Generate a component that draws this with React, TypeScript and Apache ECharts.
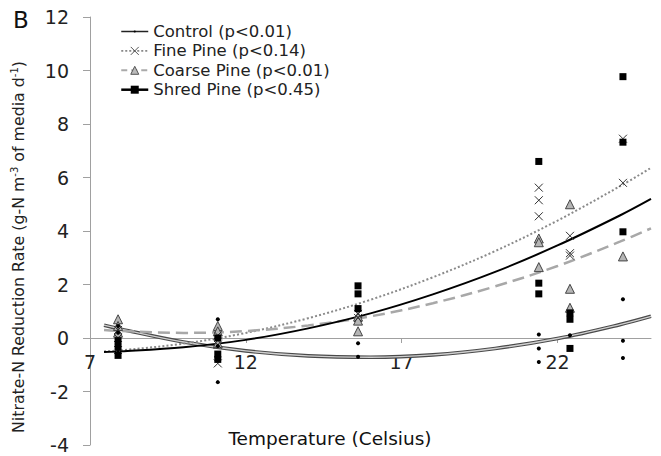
import React, { useEffect, useRef } from "react";
import * as echarts from "echarts";

// Temperatures (Celsius) at which the replicate samples were taken
const tempColumns = [7.9, 11.1, 15.6, 21.4, 22.4, 24.1];

// Nitrate-N reduction rate readings per temperature column
const controlValues = [
  [0.45, 0.2, -0.4],
  [0.7, -0.3, -1.65],
  [-0.2, -0.7],
  [0.13, -0.39, -0.9],
  [0.1],
  [1.45, -0.1, -0.75],
];
const fineValues = [
  [0.3, 0.0, -0.45],
  [0.1, -0.25, -0.95],
  [0.9, 0.75],
  [5.62, 5.15, 4.55],
  [3.82, 3.17, 3.08],
  [7.45, 5.8],
];
const coarseValues = [
  [0.7, 0.45, 0.2],
  [0.45, 0.25, -0.2],
  [0.8, 0.65, 0.25],
  [3.72, 3.58, 2.65],
  [5.0, 1.84, 1.13],
  [3.05],
];
const shredValues = [
  [-0.1, -0.35, -0.65],
  [0.0, -0.6, -0.8],
  [1.95, 1.65, 1.1],
  [6.6, 2.05, 1.65],
  [0.94, 0.7, -0.39],
  [9.77, 7.32, 3.97],
];

// Trend curves
const curveTemps = [7.45, 8, 10, 12, 14, 16, 18, 20, 22, 24, 25];
const controlCurve = [0.48, 0.33, -0.15, -0.48, -0.67, -0.72, -0.63, -0.39, -0.02, 0.5, 0.81];
const fineCurve = [-0.5, -0.46, -0.21, 0.19, 0.74, 1.43, 2.27, 3.25, 4.39, 5.67, 6.36];
const coarseCurve = [0.3, 0.26, 0.19, 0.26, 0.47, 0.81, 1.3, 1.93, 2.69, 3.6, 4.1];
const shredCurve = [-0.52, -0.5, -0.35, -0.07, 0.36, 0.92, 1.63, 2.47, 3.46, 4.58, 5.2];

const legendNames = [
  "Control (p<0.01)",
  "Fine Pine (p<0.14)",
  "Coarse Pine (p<0.01)",
  "Shred Pine (p<0.45)",
];

const xTitle = "Temperature (Celsius)";
const yTitleRich = "{a|Nitrate-N Reduction Rate (g-N m}{s|-3}{a| of media d}{s|-1}{a|)}";
const panelLabel = "B";

const FONT = "'DejaVu Sans', Arial, Helvetica, sans-serif";
const CROSS = "path://M0,0L10,10M10,0L0,10";
const SMALL_DOT = "path://M0,0M10,10M3.6,5A1.4,1.4,0,1,0,6.4,5A1.4,1.4,0,1,0,3.6,5Z";

function toPoints(cols: number[], vals: number[][]) {
  const pts: number[][] = [];
  vals.forEach((group, i) => group.forEach((v) => pts.push([cols[i], v])));
  return pts;
}

function curve(vals: number[]) {
  return curveTemps.map((t, i) => [t, vals[i]]);
}

export default function App() {
  const ref = useRef<HTMLDivElement>(null);
  useEffect(() => {
    if (!ref.current) return;
    const chart = echarts.init(ref.current, undefined, { renderer: "svg" });
    const option: any = {
      animation: false,
      backgroundColor: "#ffffff",
      grid: { left: 90, right: 10, top: 17, bottom: 11, containLabel: false, outerBoundsMode: "none" },
      xAxis: {
        type: "value",
        min: 7,
        max: 25,
        interval: 5,
        position: "bottom",
        offset: -107,
        axisLine: { onZero: false, lineStyle: { color: "#a0a0a0", width: 1 } },
        axisTick: { show: true, length: 5, lineStyle: { color: "#a0a0a0" } },
        axisLabel: { fontSize: 19, color: "#222", margin: 14, fontFamily: FONT, showMaxLabel: false },
        splitLine: { show: false },
      },
      yAxis: {
        type: "value",
        min: -4,
        max: 12,
        interval: 2,
        axisLine: { show: true, onZero: false, lineStyle: { color: "#a0a0a0", width: 1 } },
        axisTick: { show: true, length: 7, lineStyle: { color: "#a0a0a0" } },
        axisLabel: { fontSize: 19, color: "#222", margin: 21, fontFamily: FONT },
        splitLine: { show: false },
      },
      legend: {
        orient: "vertical",
        left: 120,
        top: 23,
        padding: 0,
        itemWidth: 27,
        itemHeight: 10,
        itemGap: 2.4,
        selectedMode: false,
        textStyle: { fontSize: 16.5, color: "#222", fontFamily: FONT },
        data: [
          { name: legendNames[0], itemStyle: { color: "#000", borderWidth: 0 }, lineStyle: { color: "#222", width: 1.5, type: "solid" } },
          { name: legendNames[1], itemStyle: { color: "rgba(0,0,0,0)", borderColor: "#555", borderWidth: 1 }, lineStyle: { color: "#888", width: 1.6, type: [2, 2] } },
          { name: legendNames[2], itemStyle: { color: "#bbb", borderColor: "#555", borderWidth: 1 }, lineStyle: { color: "#aaa", width: 2, type: [6, 4] } },
          { name: legendNames[3], itemStyle: { color: "#000", borderWidth: 0 }, lineStyle: { color: "#000", width: 2.5, type: "solid" } },
        ],
      },
      graphic: [
        {
          type: "text",
          left: 13,
          top: 8,
          style: { text: panelLabel, fontSize: 23, fontFamily: FONT, fill: "#111" },
        },
        {
          type: "text",
          x: 330,
          y: 438,
          style: { text: xTitle, fontSize: 18.5, fontFamily: FONT, fill: "#111", align: "center", verticalAlign: "middle" },
        },
        {
          type: "text",
          x: 18,
          y: 247,
          rotation: Math.PI / 2,
          style: {
            text: yTitleRich,
            align: "center",
            verticalAlign: "middle",
            fontFamily: FONT,
            fill: "#222",
            fontSize: 15.8,
            rich: {
              a: { fontSize: 15.8, fontFamily: FONT, fill: "#222" },
              s: { fontSize: 10, fontFamily: FONT, fill: "#222", padding: [0, 0, 7, 0] },
            },
          },
        },
      ],
      series: [
        {
          type: "line", name: legendNames[0], data: curve(controlCurve), smooth: 0.35,
          showSymbol: false, symbol: SMALL_DOT, silent: true, z: 2,
          lineStyle: { color: "#4a4a4a", width: 3.6 }, itemStyle: { color: "#000" },
        },
        {
          type: "line", name: "control-trend-inner", data: curve(controlCurve), smooth: 0.35,
          showSymbol: false, symbol: "none", silent: true, z: 3,
          lineStyle: { color: "#cfcfcf", width: 1.4 },
        },
        {
          type: "line", name: legendNames[1], data: curve(fineCurve), smooth: 0.35,
          showSymbol: false, symbol: CROSS, silent: true, z: 3,
          lineStyle: { color: "#8a8a8a", width: 2, type: [2, 2.2] }, itemStyle: { color: "#555" },
        },
        {
          type: "line", name: legendNames[2], data: curve(coarseCurve), smooth: 0.35,
          showSymbol: false, symbol: "triangle", silent: true, z: 3,
          lineStyle: { color: "#a8a8a8", width: 2.5, type: [12, 6] }, itemStyle: { color: "#bbb" },
        },
        {
          type: "line", name: legendNames[3], data: curve(shredCurve), smooth: 0.35,
          showSymbol: false, symbol: "rect", silent: true, z: 3,
          lineStyle: { color: "#000", width: 2 }, itemStyle: { color: "#000" },
        },
        {
          type: "scatter", name: "coarse-points", data: toPoints(tempColumns, coarseValues),
          symbol: "triangle", symbolSize: [9, 9], silent: true, z: 5,
          itemStyle: { color: "#b5b5b5", borderColor: "#444", borderWidth: 1, opacity: 1 },
        },
        {
          type: "scatter", name: "fine-points", data: toPoints(tempColumns, fineValues),
          symbol: CROSS, symbolSize: 8, silent: true, z: 5,
          itemStyle: { color: "rgba(0,0,0,0)", borderColor: "#333", borderWidth: 1, opacity: 1 },
        },
        {
          type: "scatter", name: "shred-points", data: toPoints(tempColumns, shredValues),
          symbol: "rect", symbolSize: 7, silent: true, z: 5,
          itemStyle: { color: "#000", opacity: 1 },
        },
        {
          type: "scatter", name: "control-points", data: toPoints(tempColumns, controlValues),
          symbol: "circle", symbolSize: 4, silent: true, z: 6,
          itemStyle: { color: "#000", opacity: 1 },
        },
      ],
    };
    chart.setOption(option);
    return () => chart.dispose();
  }, []);
  return (
    <div
      ref={ref}
      style={{ position: "fixed", left: 0, top: 0, width: 661, height: 456, background: "#fff" }}
    />
  );
}
